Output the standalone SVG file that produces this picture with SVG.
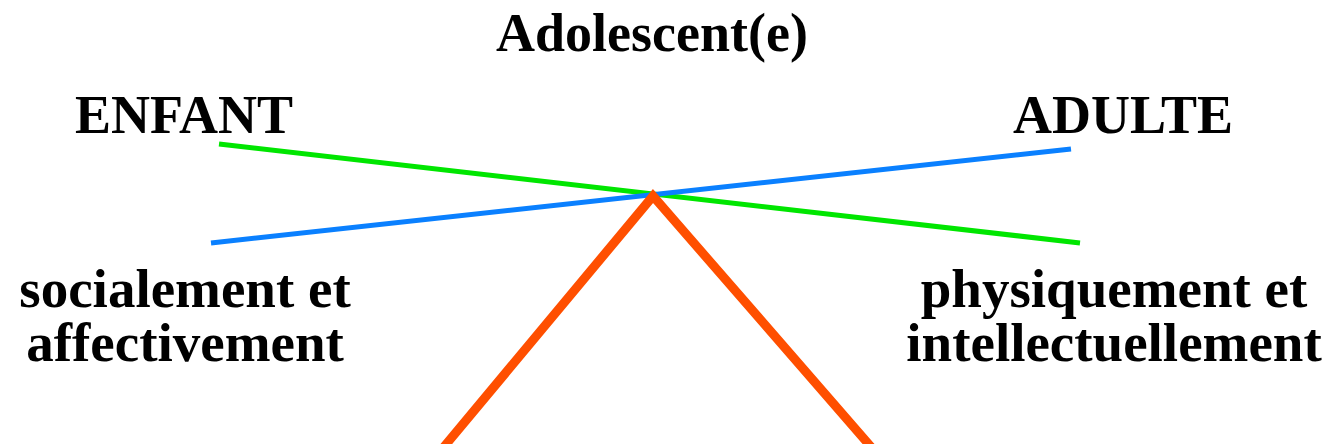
<svg xmlns="http://www.w3.org/2000/svg" width="1330" height="444" viewBox="0 0 1330 444">
<style>
text{font-family:"Liberation Serif","Times New Roman",serif;font-weight:bold;fill:#000;text-anchor:middle}
.t{font-size:54px}
.s{font-size:55px}
</style>
<rect width="1330" height="444" fill="#fff"/>
<g id="connectors" fill="none">
<line x1="219" y1="144" x2="1080" y2="243" stroke="#00E600" stroke-width="5"/>
<line x1="211" y1="243" x2="1071" y2="149" stroke="#0A80FF" stroke-width="5"/>
<polyline points="443,448 653,196 872,448" stroke="#FF4F00" stroke-width="9" stroke-linejoin="miter"/>
</g>
<g id="adolescent"><text class="t" x="652" y="51">Adolescent(e)</text></g>
<g id="enfant"><text class="t" x="184" y="133">ENFANT</text></g>
<g id="adulte"><text class="t" x="1123" y="133">ADULTE</text></g>
<g id="social"><text class="s" x="185" y="307">socialement et<tspan x="185" y="361">affectivement</tspan></text></g>
<g id="physique"><text class="s" x="1114" y="307">physiquement et<tspan x="1114" y="361">intellectuellement</tspan></text></g>
</svg>
